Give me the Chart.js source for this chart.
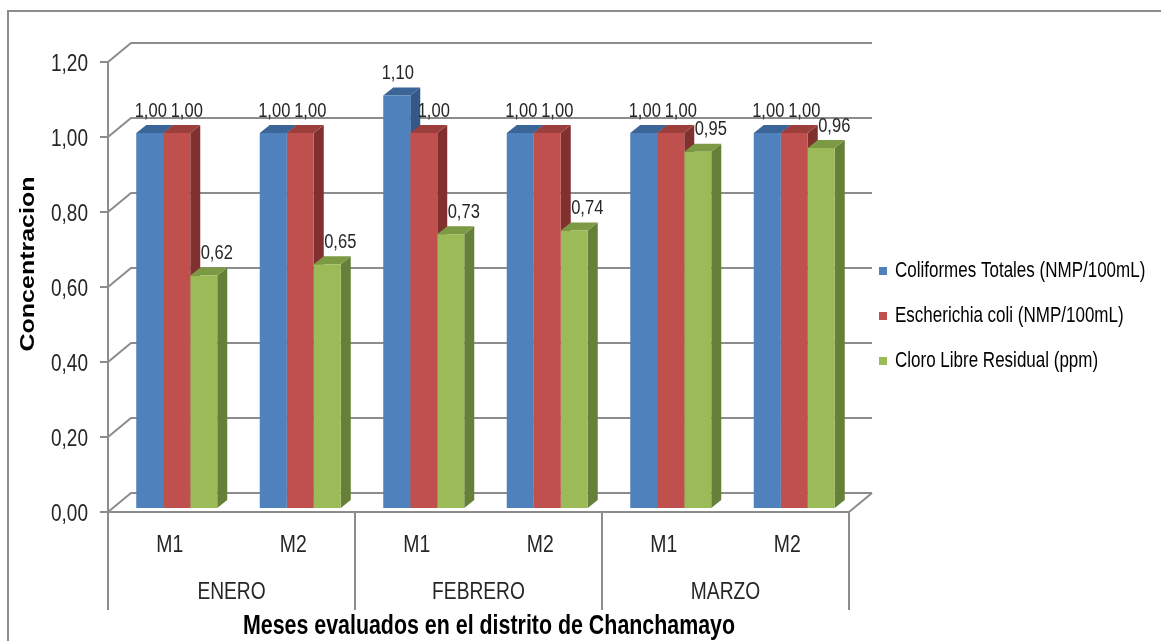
<!DOCTYPE html>
<html>
<head>
<meta charset="utf-8">
<script src="https://cdn.jsdelivr.net/npm/chart.js@4"></script>
<style>
  html, body { margin: 0; padding: 0; background: #fff; }
  #wrap { width: 1161px; height: 641px; position: relative; }
</style>
</head>
<body>
<div id="wrap"><canvas id="chart"></canvas></div>
<script>
// data
const categories = ["M1", "M2", "M1", "M2", "M1", "M2"];
const months = ["ENERO", "FEBRERO", "MARZO"];
const coliformes = [1.00, 1.00, 1.10, 1.00, 1.00, 1.00];
const ecoli = [1.00, 1.00, 1.00, 1.00, 1.00, 1.00];
const cloro = [0.62, 0.65, 0.73, 0.74, 0.95, 0.96];
const seriesNames = [
    "Coliformes Totales (NMP/100mL)",
    "Escherichia coli (NMP/100mL)",
    "Cloro Libre Residual (ppm)"
];

const FONT = "'Liberation Sans', Arial, sans-serif";
const gridColor = "#8c8c8c";
const textColor = "#262626";

// face colours: front, top, side
const faces = [
    ["#4F81BD", "#3B6596", "#345887"],
    ["#C0504D", "#9B3E3C", "#80302F"],
    ["#9BBB59", "#7C9A43", "#66803A"]
];
const labelShift = [1, 10, 13];

const comma = v => v.toFixed(2).replace(".", ",");

// the source picture is stretched vertically, so text is drawn the same way
function tallText(ctx, s, x, y, size, bold, align) {
    ctx.save();
    ctx.translate(x, y);
    ctx.scale(1, 1.25);
    ctx.font = (bold ? "bold " : "") + size + "px " + FONT;
    ctx.textAlign = align || "center";
    ctx.textBaseline = "middle";
    ctx.fillText(s, 0, 0);
    ctx.restore();
}

// front plane of the box sits 7px left / 4px down of the bar plane,
// back wall 23px right / 19px up of the front plane
const front = { dx: -7, dy: 4 };
const back = { dx: 23, dy: -19 };
const depth = { dx: 10, dy: -8 };

const box3d = {
    id: "box3d",
    beforeDatasetsDraw(chart) {
        const { ctx, chartArea: a, scales: { x, y } } = chart;
        const xl = a.left + front.dx;
        const xr = a.right + front.dx;
        const y0 = y.getPixelForValue(0) + front.dy;
        const catW = (a.right - a.left) / categories.length;

        ctx.save();
        ctx.strokeStyle = gridColor;
        ctx.lineWidth = 2;

        // outer frame
        ctx.beginPath();
        ctx.moveTo(8, 641);
        ctx.lineTo(8, 11);
        ctx.lineTo(1161, 11);
        ctx.stroke();

        // ticks, side wall diagonals and back wall gridlines
        y.ticks.forEach(t => {
            const yf = y.getPixelForValue(t.value) + front.dy;
            ctx.beginPath();
            ctx.moveTo(xl - 8, yf);
            ctx.lineTo(xl, yf);
            ctx.lineTo(xl + back.dx, yf + back.dy);
            ctx.lineTo(xr + back.dx, yf + back.dy);
            ctx.stroke();
        });

        // floor
        ctx.beginPath();
        ctx.moveTo(xl, y0);
        ctx.lineTo(xr, y0);
        ctx.lineTo(xr + back.dx, y0 + back.dy);
        ctx.stroke();

        // value axis line
        const yTop = y.getPixelForValue(y.max) + front.dy;
        ctx.beginPath();
        ctx.moveTo(xl, yTop);
        ctx.lineTo(xl, 610);
        ctx.stroke();

        // month separators
        for (let k = 1; k <= months.length; k++) {
            const sx = xl + k * 2 * catW;
            ctx.beginPath();
            ctx.moveTo(sx, y0);
            ctx.lineTo(sx, 610);
            ctx.stroke();
        }

        // bar tops and sides, in drawing order
        const metas = chart.data.datasets.map((d, i) => chart.getDatasetMeta(i));
        for (let i = 0; i < categories.length; i++) {
            metas.forEach((meta, di) => {
                const b = meta.data[i];
                const l = b.x - b.width / 2, r = b.x + b.width / 2;
                ctx.fillStyle = faces[di][2];
                ctx.beginPath();
                ctx.moveTo(r, b.y);
                ctx.lineTo(r + depth.dx, b.y + depth.dy);
                ctx.lineTo(r + depth.dx, b.base + depth.dy);
                ctx.lineTo(r, b.base);
                ctx.closePath();
                ctx.fill();
                ctx.fillStyle = faces[di][1];
                ctx.beginPath();
                ctx.moveTo(l, b.y);
                ctx.lineTo(l + depth.dx, b.y + depth.dy);
                ctx.lineTo(r + depth.dx, b.y + depth.dy);
                ctx.lineTo(r, b.y);
                ctx.closePath();
                ctx.fill();
            });
        }
        ctx.restore();
    },
    afterDatasetsDraw(chart) {
        const { ctx } = chart;
        ctx.save();
        ctx.fillStyle = textColor;
        chart.data.datasets.forEach((ds, di) => {
            chart.getDatasetMeta(di).data.forEach((b, i) => {
                tallText(ctx, comma(ds.data[i]), b.x + labelShift[di], b.y - 22, 16.5);
            });
        });
        ctx.restore();
    },
    afterDraw(chart) {
        const { ctx, chartArea: a, scales: { x, y } } = chart;
        const xl = a.left + front.dx;
        const catW = (a.right - a.left) / categories.length;
        ctx.save();
        ctx.fillStyle = textColor;

        // value labels
        y.ticks.forEach(t => {
            const yf = y.getPixelForValue(t.value) + front.dy;
            tallText(ctx, comma(t.value), 88, yf + 2, 19, false, "right");
        });

        // category labels
        categories.forEach((c, i) => {
            tallText(ctx, c, x.getPixelForValue(i) + front.dx, 545, 19.4);
        });

        // month row
        months.forEach((m, k) => {
            tallText(ctx, m, xl + (k * 2 + 1) * catW, 592, 19.2);
        });

        // axis titles
        ctx.fillStyle = "#000";
        tallText(ctx, "Meses evaluados en el distrito de Chanchamayo", 489, 627, 21.4, true);

        ctx.save();
        ctx.translate(28, 264);
        ctx.rotate(-Math.PI / 2);
        ctx.scale(1.25, 1);
        ctx.font = "bold 20px " + FONT;
        ctx.textAlign = "center";
        ctx.textBaseline = "middle";
        ctx.fillText("Concentracion", 0, 0);
        ctx.restore();

        // legend
        chart.data.datasets.forEach((ds, di) => {
            const ly = 271 + di * 45;
            ctx.fillStyle = ds.backgroundColor;
            ctx.fillRect(879, ly - 4, 8, 8);
            ctx.fillStyle = "#000";
            tallText(ctx, ds.label, 895, ly, 17, false, "left");
        });
        ctx.restore();
    }
};

new Chart(document.getElementById("chart"), {
    type: "bar",
    data: {
        labels: categories,
        datasets: [
            { label: seriesNames[0], data: coliformes, backgroundColor: faces[0][0] },
            { label: seriesNames[1], data: ecoli, backgroundColor: faces[1][0] },
            { label: seriesNames[2], data: cloro, backgroundColor: faces[2][0] }
        ]
    },
    options: {
        responsive: true,
        maintainAspectRatio: false,
        animation: false,
        datasets: {
            bar: { categoryPercentage: 0.656, barPercentage: 1.0, borderWidth: 0 }
        },
        layout: { padding: { left: 55, right: 305, top: 58, bottom: 33 } },
        plugins: {
            legend: { display: false },
            tooltip: { enabled: false }
        },
        scales: {
            x: {
                grid: { display: false },
                border: { display: false },
                ticks: { display: false },
                afterFit(scale) { scale.height = 100; }
            },
            y: {
                min: 0,
                max: 1.2,
                grid: { display: false },
                border: { display: false },
                ticks: { display: false, stepSize: 0.2 },
                afterFit(scale) { scale.width = 60; }
            }
        }
    },
    plugins: [box3d]
});
</script>
</body>
</html>
